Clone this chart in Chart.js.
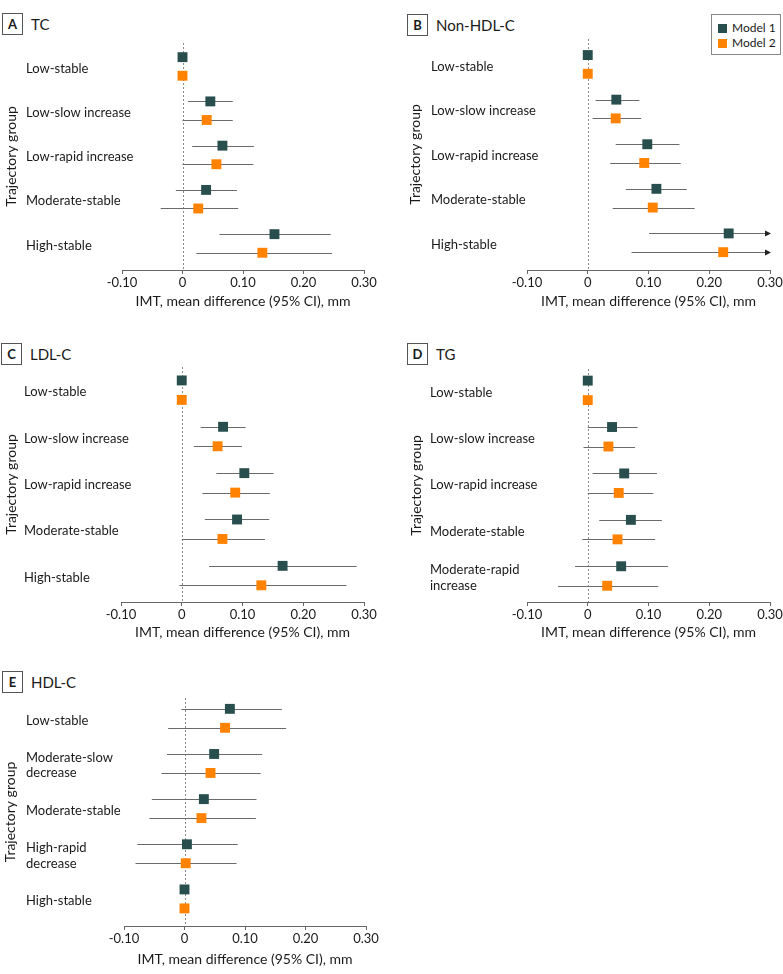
<!DOCTYPE html>
<html>
<head>
<meta charset="utf-8">
<script src="https://cdn.jsdelivr.net/npm/chart.js@4.4.1/dist/chart.umd.min.js"></script>
<style>
  html, body { margin: 0; padding: 0; background: #fff; }
  #page { position: relative; width: 783px; height: 974px; font-family: Lato, 'Open Sans', sans-serif; color: #1a1a1a; }
  canvas { position: absolute; }
  .head { position: absolute; display: flex; align-items: center; }
  .head .tag { width: 19px; height: 20px; border: 1px solid #555; font-weight: 700; font-size: 13px;
               display: flex; align-items: center; justify-content: center; box-sizing: content-box; }
  .head .name { margin-left: 8px; font-size: 15px; font-weight: 400; }
  #legend { position: absolute; left: 711px; top: 14px; width: 68px; height: 39px; border: 1px solid #888;
            font-size: 12px; line-height: 14px; }
  #legend div { position: absolute; left: 6px; display: flex; align-items: center; white-space: nowrap; }
  #legend span.sw { display: inline-block; width: 9px; height: 9px; margin-right: 5px; }
</style>
</head>
<body>
<div id="page">
  <div class="head" style="left:2px;top:13px"><div class="tag">A</div><div class="name">TC</div></div>
  <div class="head" style="left:407px;top:14px"><div class="tag">B</div><div class="name">Non-HDL-C</div></div>
  <div class="head" style="left:1px;top:343px"><div class="tag">C</div><div class="name">LDL-C</div></div>
  <div class="head" style="left:407px;top:343px"><div class="tag">D</div><div class="name">TG</div></div>
  <div class="head" style="left:2px;top:671px"><div class="tag">E</div><div class="name">HDL-C</div></div>

  <div id="legend">
    <div style="top:6px"><span class="sw" style="background:#284f4d"></span>Model 1</div>
    <div style="top:21px"><span class="sw" style="background:#ff8200"></span>Model 2</div>
  </div>

  <canvas id="chartA" width="390" height="320" style="left:0;top:0"></canvas>
  <canvas id="chartB" width="388" height="320" style="left:395px;top:0"></canvas>
  <canvas id="chartC" width="390" height="322" style="left:0;top:322px"></canvas>
  <canvas id="chartD" width="388" height="322" style="left:395px;top:322px"></canvas>
  <canvas id="chartE" width="390" height="330" style="left:0;top:644px"></canvas>
</div>

<script>
// ── Data ───────────────────────────────────────────────────────────────────────

const xTicks = [-0.10, 0, 0.10, 0.20, 0.30];
const seriesNames = ['Model 1', 'Model 2'];

// A – TC
const tcGroups = ['Low-stable', 'Low-slow increase', 'Low-rapid increase', 'Moderate-stable', 'High-stable'];
const tcM1   = [0, 0.046, 0.066, 0.039, 0.152];
const tcM1Lo = [null, 0.009, 0.016, -0.011, 0.061];
const tcM1Hi = [null, 0.083, 0.118, 0.090, 0.245];
const tcM2   = [0, 0.040, 0.056, 0.026, 0.132];
const tcM2Lo = [null, 0.000, 0.000, -0.036, 0.023];
const tcM2Hi = [null, 0.083, 0.117, 0.092, 0.247];

// B – Non-HDL-C (high-stable upper limits run off the axis)
const nonHdlGroups = ['Low-stable', 'Low-slow increase', 'Low-rapid increase', 'Moderate-stable', 'High-stable'];
const nonHdlM1   = [0, 0.047, 0.098, 0.113, 0.232];
const nonHdlM1Lo = [null, 0.013, 0.046, 0.063, 0.101];
const nonHdlM1Hi = [null, 0.085, 0.151, 0.163, 0.36];
const nonHdlM2   = [0, 0.046, 0.093, 0.107, 0.223];
const nonHdlM2Lo = [null, 0.008, 0.037, 0.041, 0.072];
const nonHdlM2Hi = [null, 0.088, 0.153, 0.176, 0.37];

// C – LDL-C
const ldlGroups = ['Low-stable', 'Low-slow increase', 'Low-rapid increase', 'Moderate-stable', 'High-stable'];
const ldlM1   = [0, 0.068, 0.103, 0.091, 0.166];
const ldlM1Lo = [null, 0.031, 0.057, 0.038, 0.045];
const ldlM1Hi = [null, 0.105, 0.151, 0.144, 0.288];
const ldlM2   = [0, 0.059, 0.088, 0.067, 0.131];
const ldlM2Lo = [null, 0.020, 0.034, 0.000, -0.004];
const ldlM2Hi = [null, 0.099, 0.145, 0.137, 0.271];

// D – TG
const tgGroups = ['Low-stable', 'Low-slow increase', 'Low-rapid increase', 'Moderate-stable', ['Moderate-rapid', 'increase']];
const tgM1   = [0, 0.040, 0.060, 0.071, 0.055];
const tgM1Lo = [null, 0.000, 0.008, 0.019, -0.021];
const tgM1Hi = [null, 0.082, 0.114, 0.122, 0.132];
const tgM2   = [0, 0.034, 0.051, 0.049, 0.032];
const tgM2Lo = [null, -0.007, 0.000, -0.009, -0.049];
const tgM2Hi = [null, 0.078, 0.108, 0.111, 0.116];

// E – HDL-C
const hdlGroups = ['Low-stable', ['Moderate-slow', 'decrease'], 'Moderate-stable', ['High-rapid', 'decrease'], 'High-stable'];
const hdlM1   = [0.075, 0.049, 0.032, 0.004, 0];
const hdlM1Lo = [-0.005, -0.029, -0.054, -0.078, null];
const hdlM1Hi = [0.161, 0.128, 0.119, 0.088, null];
const hdlM2   = [0.067, 0.043, 0.028, 0.002, 0];
const hdlM2Lo = [-0.027, -0.038, -0.058, -0.081, null];
const hdlM2Hi = [0.168, 0.126, 0.118, 0.086, null];

// ── Style ──────────────────────────────────────────────────────────────────────

const COLORS = ['#284f4d', '#ff8200'];
const ROW_OFFSET = 0.21;        // model 1 above, model 2 below the group centre
const FONT = 'Lato, "Open Sans", sans-serif';
const TEXT = '#1a1a1a';
const AXIS = '#666666';

// ── Forest plugin: zero line, CI whiskers, y title ─────────────────────────────

const forestPlugin = {
  id: 'forest',
  beforeDatasetsDraw(chart, args, opts) {
    const { ctx, chartArea, scales: { x, y } } = chart;
    ctx.save();

    const x0 = Math.round(x.getPixelForValue(0)) + 0.5;
    ctx.strokeStyle = '#8a8a8a';
    ctx.lineWidth = 1;
    ctx.setLineDash([2, 2]);
    ctx.beginPath();
    ctx.moveTo(x0, chartArea.top);
    ctx.lineTo(x0, chartArea.bottom);
    ctx.stroke();
    ctx.setLineDash([]);

    ctx.strokeStyle = '#6a6a6a';
    ctx.fillStyle = '#222';
    chart.data.datasets.forEach(ds => {
      ds.data.forEach(p => {
        if (p.lo == null || p.hi == null) return;
        const py = Math.round(y.getPixelForValue(p.y)) + 0.5;
        const left = x.getPixelForValue(Math.max(p.lo, x.min));
        const clipped = p.hi > x.max;
        const right = x.getPixelForValue(Math.min(p.hi, x.max));
        ctx.beginPath();
        ctx.moveTo(left, py);
        ctx.lineTo(clipped ? right - 4 : right, py);
        ctx.stroke();
        if (clipped) {
          ctx.beginPath();
          ctx.moveTo(right + 1, py);
          ctx.lineTo(right - 5, py - 3);
          ctx.lineTo(right - 5, py + 3);
          ctx.closePath();
          ctx.fill();
        }
      });
    });
    ctx.restore();
  },
  afterDraw(chart, args, opts) {
    const { ctx, chartArea } = chart;
    ctx.save();
    ctx.translate(opts.titleX, (chartArea.top + chartArea.bottom) / 2);
    ctx.rotate(-Math.PI / 2);
    ctx.font = `14px ${FONT}`;
    ctx.fillStyle = TEXT;
    ctx.textAlign = 'center';
    ctx.textBaseline = 'middle';
    ctx.fillText('Trajectory group', 0, 0);
    ctx.restore();
  }
};

// ── Panel builder ──────────────────────────────────────────────────────────────

function buildSeries(values, lows, highs, offset) {
  return values.map((v, i) => ({ x: v, y: i + offset, lo: lows[i], hi: highs[i] }));
}

function makePanel(id, groups, m1, m1Lo, m1Hi, m2, m2Lo, m2Hi, box) {
  const yAxisWidth = box.plotLeft - box.labelLeft;
  const axisH = box.axisH;
  new Chart(document.getElementById(id), {
    type: 'scatter',
    data: {
      datasets: [
        { label: seriesNames[0], data: buildSeries(m1, m1Lo, m1Hi, -ROW_OFFSET),
          backgroundColor: COLORS[0], borderColor: COLORS[0], borderWidth: 0,
          pointStyle: 'rect', pointRadius: 7, pointHoverRadius: 7 },
        { label: seriesNames[1], data: buildSeries(m2, m2Lo, m2Hi, ROW_OFFSET),
          backgroundColor: COLORS[1], borderColor: COLORS[1], borderWidth: 0,
          pointStyle: 'rect', pointRadius: 7, pointHoverRadius: 7 }
      ]
    },
    options: {
      responsive: false,
      animation: false,
      events: [],
      layout: {
        padding: {
          left: box.labelLeft - box.canvasLeft,
          right: box.canvasLeft + box.canvasWidth - box.plotRight,
          top: box.plotTop - box.canvasTop,
          bottom: box.canvasTop + box.canvasHeight - box.plotBottom - axisH
        }
      },
      plugins: {
        legend: { display: false },
        tooltip: { enabled: false },
        forest: { titleX: box.titleX - box.canvasLeft }
      },
      scales: {
        x: {
          type: 'linear',
          min: xTicks[0],
          max: xTicks[xTicks.length - 1],
          afterBuildTicks: s => { s.ticks = xTicks.map(v => ({ value: v })); },
          afterFit: s => { s.height = axisH; s.paddingLeft = 0; s.paddingRight = 0; },
          border: { display: true, color: AXIS, width: 1 },
          grid: { drawOnChartArea: false, drawTicks: true, tickLength: 4, color: AXIS },
          ticks: {
            padding: 1, color: TEXT, font: { family: FONT, size: 13 }, maxRotation: 0,
            callback: v => (v === 0 ? '0' : v.toFixed(2))
          },
          title: {
            display: true, text: 'IMT, mean difference (95% CI), mm', color: TEXT,
            padding: 0, font: { family: FONT, size: 14 }
          }
        },
        y: {
          type: 'linear',
          reverse: true,
          min: box.yMin,
          max: box.yMax,
          afterBuildTicks: s => { s.ticks = groups.map((g, i) => ({ value: i })); },
          afterFit: s => { s.width = yAxisWidth; s.paddingTop = 0; s.paddingBottom = 0; },
          border: { display: false },
          grid: { display: false },
          // mirrored so the long group names are not clipped to the axis box
          ticks: {
            mirror: true, padding: -yAxisWidth, labelOffset: 2, color: TEXT,
            font: { family: FONT, size: 13, lineHeight: 1.2 },
            callback: v => groups[v]
          }
        }
      }
    },
    plugins: [forestPlugin]
  });
}

// ── Panels ─────────────────────────────────────────────────────────────────────

makePanel('chartA', tcGroups, tcM1, tcM1Lo, tcM1Hi, tcM2, tcM2Lo, tcM2Hi, {
  canvasLeft: 0, canvasTop: 0, canvasWidth: 390, canvasHeight: 320,
  labelLeft: 26, plotLeft: 122, plotRight: 364, plotTop: 43, plotBottom: 270,
  axisH: 40, yMin: -0.53, yMax: 4.6, titleX: 11
});

makePanel('chartB', nonHdlGroups, nonHdlM1, nonHdlM1Lo, nonHdlM1Hi, nonHdlM2, nonHdlM2Lo, nonHdlM2Hi, {
  canvasLeft: 395, canvasTop: 0, canvasWidth: 388, canvasHeight: 320,
  labelLeft: 431, plotLeft: 527, plotRight: 770, plotTop: 39, plotBottom: 270,
  axisH: 40, yMin: -0.57, yMax: 4.61, titleX: 415
});

makePanel('chartC', ldlGroups, ldlM1, ldlM1Lo, ldlM1Hi, ldlM2, ldlM2Lo, ldlM2Hi, {
  canvasLeft: 0, canvasTop: 322, canvasWidth: 390, canvasHeight: 322,
  labelLeft: 24, plotLeft: 121, plotRight: 364, plotTop: 367, plotBottom: 602,
  axisH: 39, yMin: -0.5, yMax: 4.57, titleX: 11
});

makePanel('chartD', tgGroups, tgM1, tgM1Lo, tgM1Hi, tgM2, tgM2Lo, tgM2Hi, {
  canvasLeft: 395, canvasTop: 322, canvasWidth: 388, canvasHeight: 322,
  labelLeft: 430, plotLeft: 527, plotRight: 770, plotTop: 369, plotBottom: 602,
  axisH: 39, yMin: -0.46, yMax: 4.56, titleX: 416
});

makePanel('chartE', hdlGroups, hdlM1, hdlM1Lo, hdlM1Hi, hdlM2, hdlM2Lo, hdlM2Hi, {
  canvasLeft: 0, canvasTop: 644, canvasWidth: 390, canvasHeight: 330,
  labelLeft: 26, plotLeft: 124, plotRight: 366, plotTop: 698, plotBottom: 926,
  axisH: 42, yMin: -0.45, yMax: 4.6, titleX: 10
});
</script>
</body>
</html>
